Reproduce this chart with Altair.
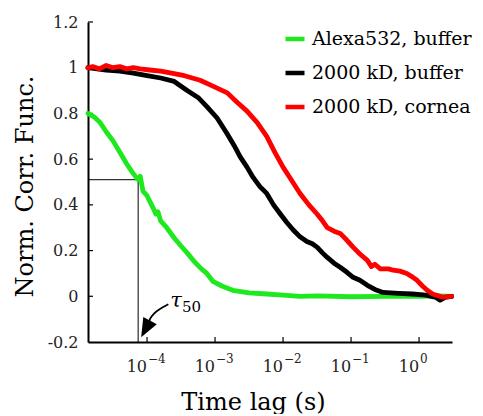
import altair as alt
import pandas as pd
import numpy as np

# ---------------- data ----------------
series_names = ["Alexa532, buffer", "2000 kD, buffer", "2000 kD, cornea"]
series_colors = ["#1ee81e", "#000000", "#ff0000"]

green_logt = [-4.87, -4.78, -4.69, -4.60, -4.50, -4.40, -4.30, -4.21, -4.16, -4.13, -4.10, -4.06,
              -4.00, -3.95, -3.90, -3.87, -3.84, -3.80, -3.71, -3.60, -3.50, -3.41, -3.30, -3.20,
              -3.12, -3.03, -2.90, -2.74, -2.50, -2.24, -2.00, -1.75, -1.50, -1.00, -0.50, 0.00, 0.30, 0.48]
green_g = [0.80, 0.785, 0.76, 0.72, 0.68, 0.63, 0.58, 0.54, 0.52, 0.51, 0.525, 0.46,
           0.44, 0.41, 0.38, 0.36, 0.37, 0.33, 0.30, 0.255, 0.22, 0.19, 0.15, 0.12,
           0.10, 0.065, 0.045, 0.026, 0.015, 0.010, 0.005, 0.0, 0.002, -0.002, 0.0, 0.0, 0.002, 0.0]

black_logt = [-4.87, -4.60, -4.40, -4.20, -4.00, -3.80, -3.60, -3.41, -3.25, -3.12, -2.97, -2.82,
              -2.72, -2.63, -2.53, -2.44, -2.34, -2.24, -2.14, -2.04, -1.95, -1.85, -1.75, -1.65,
              -1.57, -1.50, -1.42, -1.35, -1.25, -1.16, -1.06, -0.97, -0.87, -0.76, -0.65, -0.53,
              -0.30, -0.10, 0.10, 0.25, 0.31, 0.38, 0.48]
black_g = [1.0, 0.99, 0.985, 0.976, 0.965, 0.955, 0.94, 0.90, 0.87, 0.83, 0.78, 0.71,
           0.66, 0.61, 0.565, 0.52, 0.48, 0.45, 0.40, 0.36, 0.325, 0.29, 0.26, 0.24,
           0.23, 0.215, 0.19, 0.17, 0.145, 0.127, 0.105, 0.083, 0.07, 0.048, 0.03, 0.017,
           0.013, 0.010, 0.005, -0.005, -0.017, -0.005, 0.0]

red_logt = [-4.87, -4.80, -4.70, -4.60, -4.50, -4.40, -4.30, -4.20, -4.10, -3.96, -3.80, -3.62,
            -3.45, -3.22, -3.00, -2.82, -2.68, -2.53, -2.38, -2.24, -2.12, -2.00, -1.88, -1.75,
            -1.62, -1.50, -1.42, -1.35, -1.25, -1.16, -1.06, -0.97, -0.87, -0.76, -0.70, -0.65,
            -0.57, -0.45, -0.38, -0.28, -0.18, -0.10, -0.03, 0.05, 0.12, 0.20, 0.35, 0.48]
red_g = [1.0, 1.005, 0.995, 1.01, 1.0, 1.005, 0.995, 1.0, 0.995, 0.99, 0.985, 0.975,
         0.965, 0.945, 0.915, 0.89, 0.85, 0.81, 0.76, 0.70, 0.63, 0.565, 0.51, 0.45,
         0.40, 0.36, 0.33, 0.30, 0.285, 0.275, 0.245, 0.215, 0.185, 0.157, 0.13, 0.14,
         0.12, 0.12, 0.114, 0.11, 0.10, 0.085, 0.07, 0.045, 0.026, 0.01, -0.004, 0.0]

x_domain = [1.355e-5, 3.05]
y_domain = [-0.2, 1.2]
x_tick_exponents = [-4, -3, -2, -1, 0]
y_tick_values = [0.0, 0.2, 0.4, 0.6, 0.8, 1.0, 1.2]

tau50_time = 7.4e-5
tau50_level = 0.51

arrow_logt = [-3.687, -3.809, -3.907, -3.966, -3.963]
arrow_g = [-0.035, -0.054, -0.076, -0.102, -0.112]
arrowhead_logt = [-4.021]
arrowhead_g = [-0.143]

# ---------------- tables ----------------
frames = []
for name, lt, g in zip(series_names, [green_logt, black_logt, red_logt], [green_g, black_g, red_g]):
    frames.append(pd.DataFrame({"t": 10.0 ** np.array(lt), "g": g, "series": name}))
curves = pd.concat(frames, ignore_index=True)

xs = alt.Scale(type="log", domain=x_domain, nice=False)
ys = alt.Scale(domain=y_domain, nice=False, zero=False)
FONT = "DejaVu Serif"

lines = alt.Chart(curves).mark_line(strokeWidth=4.8, strokeJoin="round", strokeCap="round").encode(
    x=alt.X("t:Q", scale=xs,
            axis=alt.Axis(labels=False, ticks=False, grid=False, domainColor="black", domainWidth=2,
                          title="Time lag (s)", titleFont=FONT, titleFontSize=24, titleFontWeight="normal",
                          titleColor="black", titleX=165, titleY=67, titleAlign="center",
                          titleBaseline="alphabetic")),
    y=alt.Y("g:Q", scale=ys,
            axis=alt.Axis(values=[-0.2] + y_tick_values, ticks=False, tickSize=0, grid=False,
                          domainColor="black", domainWidth=2,
                          labelExpr="toString(round(datum.value*10)/10)",
                          labelFont=FONT, labelFontSize=16, labelColor="#222", labelPadding=10,
                          title="Norm. Corr. Func.", titleFont=FONT, titleFontSize=24,
                          titleFontWeight="normal", titleColor="black", titleX=-56, titleY=164,
                          titleAlign="center", titleBaseline="alphabetic")),
    color=alt.Color("series:N", scale=alt.Scale(domain=series_names, range=series_colors),
                    legend=alt.Legend(title=None, orient="none", legendX=195, legendY=5,
                                      symbolType="stroke", symbolSize=361, symbolStrokeWidth=4.5,
                                      labelFont=FONT, labelFontSize=19, labelColor="black",
                                      labelOffset=5, rowPadding=12, padding=0)),
    order=alt.Order("t:Q"),
)

# inward ticks
ytick_df = pd.DataFrame({"t": [x_domain[0]] * len(y_tick_values), "g": y_tick_values})
yticks = alt.Chart(ytick_df).mark_rule(color="black", strokeWidth=1.2).encode(
    x=alt.X("t:Q", scale=xs), x2=alt.value(5), y=alt.Y("g:Q", scale=ys))
xtick_df = pd.DataFrame({"t": [10.0 ** e for e in x_tick_exponents], "g": [y_domain[0]] * len(x_tick_exponents)})
xticks = alt.Chart(xtick_df).mark_rule(color="black", strokeWidth=1.2).encode(
    x=alt.X("t:Q", scale=xs), y=alt.Y("g:Q", scale=ys), y2=alt.value(315))

# x tick labels 10^n
xlab_df = pd.DataFrame({"t": [10.0 ** e for e in x_tick_exponents],
                        "g": [y_domain[0]] * len(x_tick_exponents),
                        "base": ["10"] * len(x_tick_exponents),
                        "exp": [str(e).replace("-", "\u2212") for e in x_tick_exponents]})
xlab_base = alt.Chart(xlab_df).mark_text(font=FONT, fontSize=16, color="#222", align="right",
                                         baseline="alphabetic", dy=30, dx=0).encode(
    x=alt.X("t:Q", scale=xs), y=alt.Y("g:Q", scale=ys), text="base:N")
xlab_exp = alt.Chart(xlab_df).mark_text(font=FONT, fontSize=12, color="#222", align="left",
                                        baseline="alphabetic", dy=21, dx=1).encode(
    x=alt.X("t:Q", scale=xs), y=alt.Y("g:Q", scale=ys), text="exp:N")

# tau50 guide lines
vline_df = pd.DataFrame({"t": [tau50_time], "g": [y_domain[0]], "g2": [tau50_level]})
vline = alt.Chart(vline_df).mark_rule(color="black", strokeWidth=1).encode(
    x=alt.X("t:Q", scale=xs), y=alt.Y("g:Q", scale=ys), y2="g2:Q")
hline_df = pd.DataFrame({"t": [x_domain[0]], "t2": [tau50_time], "g": [tau50_level]})
hline = alt.Chart(hline_df).mark_rule(color="black", strokeWidth=1).encode(
    x=alt.X("t:Q", scale=xs), x2="t2:Q", y=alt.Y("g:Q", scale=ys))

# arrow
arrow_df = pd.DataFrame({"t": 10.0 ** np.array(arrow_logt), "g": arrow_g, "i": range(len(arrow_g))})
arrow = alt.Chart(arrow_df).mark_line(color="black", strokeWidth=1.8, interpolate="basis").encode(
    x=alt.X("t:Q", scale=xs), y=alt.Y("g:Q", scale=ys), order="i:Q")
head_df = pd.DataFrame({"t": 10.0 ** np.array(arrowhead_logt), "g": arrowhead_g})
ARROWHEAD = "M-0.434,0.806L1.093,-0.451L-0.225,-1.161Z"
head = alt.Chart(head_df).mark_point(shape=ARROWHEAD, filled=True, color="black", opacity=1,
                                     strokeWidth=0, size=420).encode(
    x=alt.X("t:Q", scale=xs), y=alt.Y("g:Q", scale=ys))

tau_df = pd.DataFrame({"t": [10.0 ** -3.66], "g": [-0.048], "s": ["\u03c4"]})
tau_txt = alt.Chart(tau_df).mark_text(font=FONT, fontSize=21, fontStyle="italic", color="black",
                                      align="left", baseline="alphabetic").encode(
    x=alt.X("t:Q", scale=xs), y=alt.Y("g:Q", scale=ys), text="s:N")
sub_df = pd.DataFrame({"t": [10.0 ** -3.485], "g": [-0.07], "s": ["50"]})
sub_txt = alt.Chart(sub_df).mark_text(font=FONT, fontSize=15, color="black",
                                      align="left", baseline="alphabetic").encode(
    x=alt.X("t:Q", scale=xs), y=alt.Y("g:Q", scale=ys), text="s:N")

chart = alt.layer(vline, hline, yticks, xticks, xlab_base, xlab_exp, arrow, head, tau_txt, sub_txt,
                  lines).properties(
    width=364, height=320,
    autosize=alt.AutoSizeParams(type="none"),
    padding={"left": 80, "top": 14, "right": 23, "bottom": 72},
    background="white",
).configure_view(stroke=None)

chart.save("out.html", embed_options={"renderer": "svg", "actions": False})
